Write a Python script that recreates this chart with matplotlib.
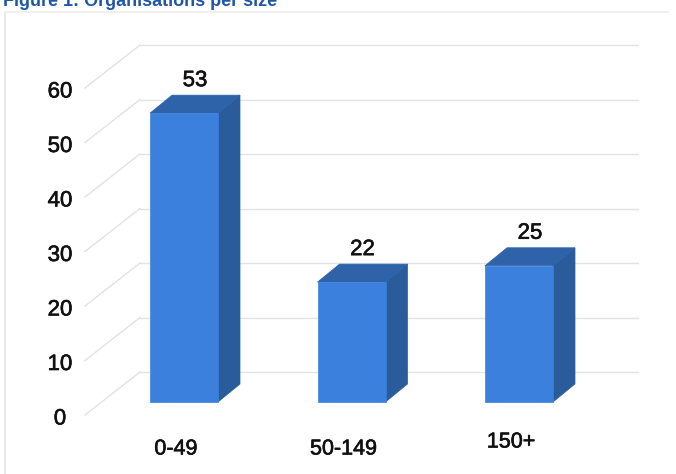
import matplotlib
matplotlib.use("Agg")
import matplotlib.pyplot as plt
from matplotlib.patches import Polygon
import matplotlib.patheffects as pe

plt.rcParams['font.family'] = ['Liberation Sans', 'DejaVu Sans']

categories = ["0-49", "50-149", "150+"]
values = [53, 22, 25]
yticks = [0, 10, 20, 30, 40, 50, 60]
title = "Figure 1: Organisations per size"

W, H = 676, 474
fig = plt.figure(figsize=(W / 100, H / 100), dpi=100)
ax = fig.add_axes([0, 0, 1, 1])

# axis units: x = category index, y = value; one value unit = 5.45 px
PX_Y = 5.45
PX_X = 167.5
ax.set_xlim((0 - 184) / PX_X, (W - 184) / PX_X)
ax.set_ylim((402 - H) / PX_Y, 402 / PX_Y)
ax.axis('off')

thick = [pe.withStroke(linewidth=0.45, foreground='#111111')]

# oblique projection offsets (depth)
bar_dx, bar_dy = 22 / PX_X, 18 / PX_Y
half_w = 34 / PX_X

# walls: front edge of floor sits below bar base, back wall above it
front_y0 = -13 / PX_Y
back_y0 = 30 / PX_Y
front_x = (85 - 184) / PX_X
back_x = (140 - 184) / PX_X
right_x = (638 - 184) / PX_X

grid_c = '#e2e2e2'
for t in yticks:
    ax.plot([front_x, back_x], [front_y0 + t, back_y0 + t], color=grid_c, lw=1, zorder=1)
    ax.plot([back_x, right_x], [back_y0 + t, back_y0 + t], color=grid_c, lw=1, zorder=1)
    ax.text((60 - 184) / PX_X, front_y0 + t - 4 / PX_Y, str(t), ha='center', va='center',
            fontsize=16, color='#111111', zorder=5, path_effects=thick)

front_c = '#3a80dc'
side_c = '#2a5c9c'
top_c = '#2e63aa'
label_dy = [0, 0, 7]
for i, (cat, v) in enumerate(zip(categories, values)):
    x0, x1 = i - half_w, i + half_w
    front = [(x0, 0), (x1, 0), (x1, v), (x0, v)]
    side = [(x1, 0), (x1 + bar_dx, bar_dy), (x1 + bar_dx, v + bar_dy), (x1, v)]
    top = [(x0, v), (x1, v), (x1 + bar_dx, v + bar_dy), (x0 + bar_dx, v + bar_dy)]
    ax.add_patch(Polygon(side, closed=True, facecolor=side_c, edgecolor=side_c, lw=0.5, zorder=3))
    ax.add_patch(Polygon(top, closed=True, facecolor=top_c, edgecolor=top_c, lw=0.5, zorder=3))
    ax.add_patch(Polygon(front, closed=True, facecolor=front_c, edgecolor=front_c, lw=0.5, zorder=4))
    ax.text(i + bar_dx / 2, v + bar_dy + 4 / PX_Y, str(v), ha='center', va='bottom',
            fontsize=16, color='#111111', zorder=5, path_effects=thick)
    ax.text(i - 8 / PX_X, front_y0 - (34 - label_dy[i]) / PX_Y, cat, ha='center', va='center',
            fontsize=15.5, color='#111111', zorder=5, path_effects=thick)

# light frame around the chart
ax.plot([(5 - 184) / PX_X, (5 - 184) / PX_X], [(402 - 474) / PX_Y, (402 - 12) / PX_Y],
        color='#e4e4e4', lw=1.2)
ax.plot([(5 - 184) / PX_X, (668 - 184) / PX_X], [(402 - 12) / PX_Y, (402 - 12) / PX_Y],
        color='#eeeeee', lw=1.2)

# title along the top edge
fig.text(3 / W, 1 - 6 / H, title, ha='left', va='baseline', fontsize=13,
         fontweight='bold', color='#1f56a8')

fig.savefig("out.png", dpi=100, facecolor='white')
